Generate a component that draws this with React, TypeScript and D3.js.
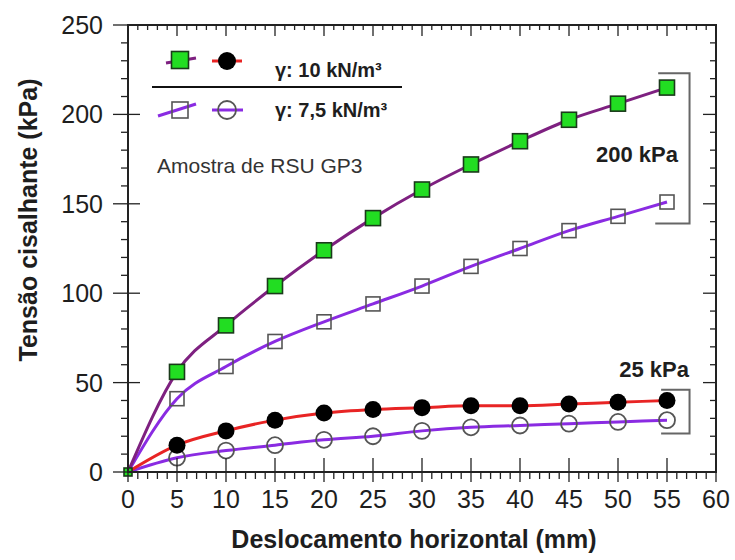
import React from "react";
import * as d3 from "d3";

// deslocamento horizontal (mm)
const xs = [0, 5, 10, 15, 20, 25, 30, 35, 40, 45, 50, 55];
// tensão cisalhante (kPa)
const g10_200 = [0, 56, 82, 104, 124, 142, 158, 172, 185, 197, 206, 215];
const g75_200 = [0, 41, 59, 73, 84, 94, 104, 115, 125, 135, 143, 151];
const g10_25 = [0, 15, 23, 29, 33, 35, 36, 37, 37, 38, 39, 40];
const g75_25 = [0, 8, 12, 15, 18, 20, 23, 25, 26, 27, 28, 29];
const xTicks = [0, 5, 10, 15, 20, 25, 30, 35, 40, 45, 50, 55, 60];
const yTicks = [0, 50, 100, 150, 200, 250];

const W = 735;
const H = 560;
const FONT = "'Liberation Sans', Arial, sans-serif";
const INK = "#1e1e1e";

const App = () => {
  const x = d3.scaleLinear().domain([0, 60]).range([128, 716]);
  const y = d3.scaleLinear().domain([0, 250]).range([472, 25]);
  const left = x(0), right = x(60), top = y(250), bottom = y(0);

  const line = (vals: number[]) =>
    d3.line<number>()
      .x((_, i) => x(xs[i]))
      .y((v) => y(v))
      .curve(d3.curveMonotoneX)(vals) || "";

  const xMinor = d3.range(0, 61, 1);
  const yMinor = d3.range(0, 251, 10);

  const sq = (cx: number, cy: number, s: number, fill: string, stroke: string) => (
    <rect x={cx - s / 2} y={cy - s / 2} width={s} height={s} fill={fill} stroke={stroke} strokeWidth={1.6} />
  );

  return (
    <svg width={W} height={H} style={{ position: "absolute", left: 0, top: 0, background: "#fff" }} fontFamily={FONT}>
      {/* curves */}
      <path d={line(g75_25)} fill="none" stroke="#8a2be2" strokeWidth={3} />
      <path d={line(g10_25)} fill="none" stroke="#e82424" strokeWidth={3} />
      <path d={line(g75_200)} fill="none" stroke="#8a2be2" strokeWidth={3} />
      <path d={line(g10_200)} fill="none" stroke="#7e2080" strokeWidth={3} />

      {/* markers */}
      {xs.slice(1).map((xv, i) => (
        <g key={"m" + i}>
          <circle cx={x(xv)} cy={y(g75_25[i + 1])} r={8} fill="none" stroke="#555" strokeWidth={1.8} />
          <circle cx={x(xv)} cy={y(g10_25[i + 1])} r={8.5} fill="#000" />
          {sq(x(xv), y(g75_200[i + 1]), 14, "none", "#555")}
          {sq(x(xv), y(g10_200[i + 1]), 15, "#22dd22", "#1a3a1a")}
        </g>
      ))}
      {sq(x(0), y(0), 8, "#22dd22", "#1a3a1a")}

      {/* frame */}
      <rect x={left} y={top} width={right - left} height={bottom - top} fill="none" stroke="#222" strokeWidth={2} />

      {/* x ticks: bottom minors outward, majors cross; top inward */}
      {xMinor.map((v) => {
        const major = v % 5 === 0;
        return (
          <g key={"xm" + v} stroke="#222" strokeWidth={1.3}>
            <line x1={x(v)} x2={x(v)} y1={bottom - (major ? 14 : 0)} y2={bottom + (major ? 10 : 7)} />
            <line x1={x(v)} x2={x(v)} y1={top} y2={top + (major ? 11 : 5)} />
          </g>
        );
      })}
      {/* y ticks: left minors outward, majors cross; right inward */}
      {yMinor.map((v) => {
        const major = v % 50 === 0;
        return (
          <g key={"ym" + v} stroke="#222" strokeWidth={1.3}>
            <line x1={left - (major ? 15 : 7)} x2={left + (major ? 12 : 0)} y1={y(v)} y2={y(v)} />
            <line x1={right} x2={right - (major ? 13 : 6)} y1={y(v)} y2={y(v)} />
          </g>
        );
      })}
      {xTicks.map((v) => (
        <text key={"xt" + v} x={x(v)} y={508} textAnchor="middle" fontSize={25} fill={INK}>{v}</text>
      ))}
      {yTicks.map((v) => (
        <text key={"yt" + v} x={103} y={y(v) + 9} textAnchor="end" fontSize={25} fill={INK}>{v}</text>
      ))}

      {/* axis titles */}
      <text x={414} y={548} textAnchor="middle" fontSize={25} fontWeight="bold" fill={INK}>Deslocamento horizontal (mm)</text>
      <text transform={`translate(37,${220}) rotate(-90)`} textAnchor="middle" fontSize={25} fontWeight="bold" fill={INK}>Tensão cisalhante (kPa)</text>

      {/* legend */}
      <line x1={166} x2={196} y1={63} y2={58} stroke="#7e2080" strokeWidth={3} />
      {sq(180, 60, 17, "#22dd22", "#1a3a1a")}
      <line x1={212} x2={242} y1={61} y2={61} stroke="#e82424" strokeWidth={3} />
      <circle cx={227} cy={61} r={9} fill="#000" />
      <text x={275} y={77} fontSize={20} fontWeight="bold" fill={INK}>γ: 10 kN/m³</text>
      <line x1={152} x2={402} y1={87} y2={87} stroke="#111" strokeWidth={2} />
      <line x1={158} x2={196} y1={116} y2={104} stroke="#8a2be2" strokeWidth={3} />
      {sq(180, 110, 16, "none", "#555")}
      <line x1={212} x2={243} y1={110} y2={110} stroke="#8a2be2" strokeWidth={3} />
      <circle cx={227} cy={110} r={9} fill="none" stroke="#555" strokeWidth={1.8} />
      <text x={275} y={117} fontSize={20} fontWeight="bold" fill={INK}>γ: 7,5 kN/m³</text>

      <text x={157} y={173} fontSize={21} fill="#333">Amostra de RSU GP3</text>

      {/* brackets */}
      <path d={`M${x(54.1)},${y(223)} H${x(57.3)} V${y(139)} H${x(53.8)}`} fill="none" stroke="#666" strokeWidth={2} />
      <text x={678} y={162} textAnchor="end" fontSize={22} fontWeight="bold" fill={INK}>200 kPa</text>
      <path d={`M${x(54.4)},${y(46)} H${x(57.3)} V${y(21.5)} H${x(54.4)}`} fill="none" stroke="#666" strokeWidth={2} />
      <text x={689} y={377} textAnchor="end" fontSize={22} fontWeight="bold" fill={INK}>25 kPa</text>
    </svg>
  );
};

export default App;
